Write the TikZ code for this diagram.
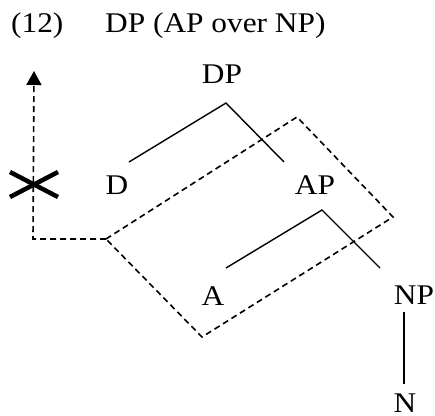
\documentclass[tikz,border=0pt]{standalone}
\usepackage{fontspec}
\setmainfont{Liberation Serif}[FakeStretch=1.1]
\usetikzlibrary{arrows.meta}
\begin{document}
\begin{tikzpicture}[x=1pt,y=-1pt,
  lab/.style={inner sep=0pt,anchor=base,font=\fontsize{28.5}{32}\selectfont},
  branch/.style={line width=1.4pt},
  movepath/.style={line width=1.6pt,dash pattern=on 6pt off 4pt},
  blocked/.style={line width=4.5pt}]
\useasboundingbox (0,0) rectangle (435,415);

% heading
\node[lab,anchor=base west] (num) at (11,32) {(12)};
\node[lab,anchor=base west] (title) at (105,32) {DP (AP over NP)};

% tree labels
\node[lab] (dp) at (222,83) {DP};
\node[lab] (d) at (117,194) {D};
\node[lab] (ap) at (315,194) {AP};
\node[lab] (a) at (213,305) {A};
\node[lab] (np) at (414,304) {NP};
\node[lab] (n) at (405,412) {N};

% branch points
\coordinate (dpTop) at (226,103);
\coordinate (dEnd) at (129,162);
\coordinate (apEnd) at (284,162);
\coordinate (apTop) at (322,210);
\coordinate (aEnd) at (226,268);
\coordinate (npEnd) at (380,268);
\coordinate (npBot) at (404,312);
\coordinate (nTop) at (404,384);

\draw[branch] (dEnd) -- (dpTop) -- (apEnd);
\draw[branch] (aEnd) -- (apTop) -- (npEnd);
\draw[branch] (npBot) -- (nTop);

% dashed region around AP and A, and the upward path
\coordinate (boxL) at (106,239);
\coordinate (boxT) at (297,117);
\coordinate (boxR) at (393,217);
\coordinate (boxB) at (202,337);
\coordinate (turn) at (33,239);
\coordinate (tip) at (34,71);
\draw[movepath] (boxL) -- (boxT) -- (boxR) -- (boxB) -- cycle;
\draw[movepath,-{Triangle[width=15pt,length=14pt]}] (boxL) -- (turn) -- (tip);

% cross on the path
\coordinate (xa) at (10,172);
\coordinate (xb) at (58,197);
\coordinate (xc) at (10,197);
\coordinate (xd) at (58,172);
\draw[blocked] (xa) -- (xb);
\draw[blocked] (xc) -- (xd);
\end{tikzpicture}
\end{document}
